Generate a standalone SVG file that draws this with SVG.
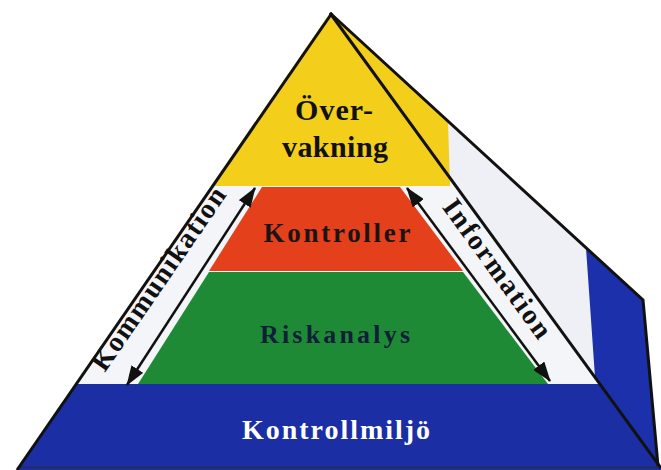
<svg xmlns="http://www.w3.org/2000/svg" width="661" height="470" viewBox="0 0 661 470">
  <defs>
    <marker id="ah" viewBox="0 0 20 14" refX="19" refY="7" markerWidth="20" markerHeight="14" markerUnits="userSpaceOnUse" orient="auto-start-reverse">
      <path d="M0,0 L20,7 L0,14 Z" fill="#111"/>
    </marker>
    <style>
      .lbl { font-family: "Liberation Serif", "Times New Roman", serif; font-weight: bold; text-anchor: middle; }
      .edge { fill: none; stroke: #111; stroke-width: 3; stroke-linejoin: miter; }
      .arrow { fill: none; stroke: #111; stroke-width: 2.5; marker-start: url(#ah); marker-end: url(#ah); }
    </style>
  </defs>
  <rect width="661" height="470" fill="#ffffff"/>

  <g id="right-face">
    <polygon points="330,13 643,300 658,468 661,468" fill="#eef0f5"/>
    <polygon points="330,13 448,122 448,174 446,174" fill="#f3cf1c"/>
    <polygon points="586,248 643,300 658,468 661,468 595,377" fill="#1d30ac"/>
  </g>

  <g id="front-face">
    <polygon points="330,13 661,468 18,470" fill="#f4f5f8"/>
  </g>

  <g id="overvakning">
    <polygon points="330,13 448,122 450,186 211,186" fill="#f3cf1c"/>
    <text class="lbl" x="334" y="120" font-size="30" fill="#111" textLength="78" lengthAdjust="spacing">Över-</text>
    <text class="lbl" x="335" y="157" font-size="30" fill="#111" textLength="106" lengthAdjust="spacing">vakning</text>
  </g>

  <g id="kontroller">
    <polygon points="262,187 400,187 463,271 209,271" fill="#e5401c"/>
    <text class="lbl" x="337" y="242" font-size="27" fill="#1a1414" textLength="147" lengthAdjust="spacing">Kontroller</text>
  </g>

  <g id="riskanalys">
    <polygon points="209,272 463,272 548,384 138,384" fill="#1f8a35"/>
    <text class="lbl" x="335" y="343" font-size="26" fill="#0f1f38" textLength="150" lengthAdjust="spacing">Riskanalys</text>
  </g>

  <g id="kontrollmiljo">
    <polygon points="77,384 600,384 661,468 661,470 18,470" fill="#1b2ea4"/>
    <line x1="20" y1="467.5" x2="661" y2="467.5" stroke="#2a2a55" stroke-width="1.5"/>
    <text class="lbl" x="336" y="439" font-size="28" fill="#ffffff" textLength="188" lengthAdjust="spacing">Kontrollmiljö</text>
  </g>

  <g id="outline">
    <line class="edge" x1="332" y1="13" x2="17" y2="470"/>
    <line class="edge" x1="330" y1="13" x2="661" y2="468"/>
    <polyline class="edge" points="330,13 643,300 658,466" stroke-width="2.5"/>
  </g>

  <g id="connectors">
    <line class="arrow" x1="255" y1="188" x2="127" y2="385"/>
    <line class="arrow" x1="407" y1="188" x2="550" y2="381"/>
  </g>

  <g id="kommunikation-label">
    <text class="lbl" x="166" y="284" font-size="28" fill="#111" textLength="216" lengthAdjust="spacing" transform="rotate(-55.5 166 284)">Kommunikation</text>
  </g>
  <g id="information-label">
    <text class="lbl" x="490" y="274" font-size="28" fill="#111" textLength="165" lengthAdjust="spacing" transform="rotate(54 490 274)">Information</text>
  </g>
</svg>
